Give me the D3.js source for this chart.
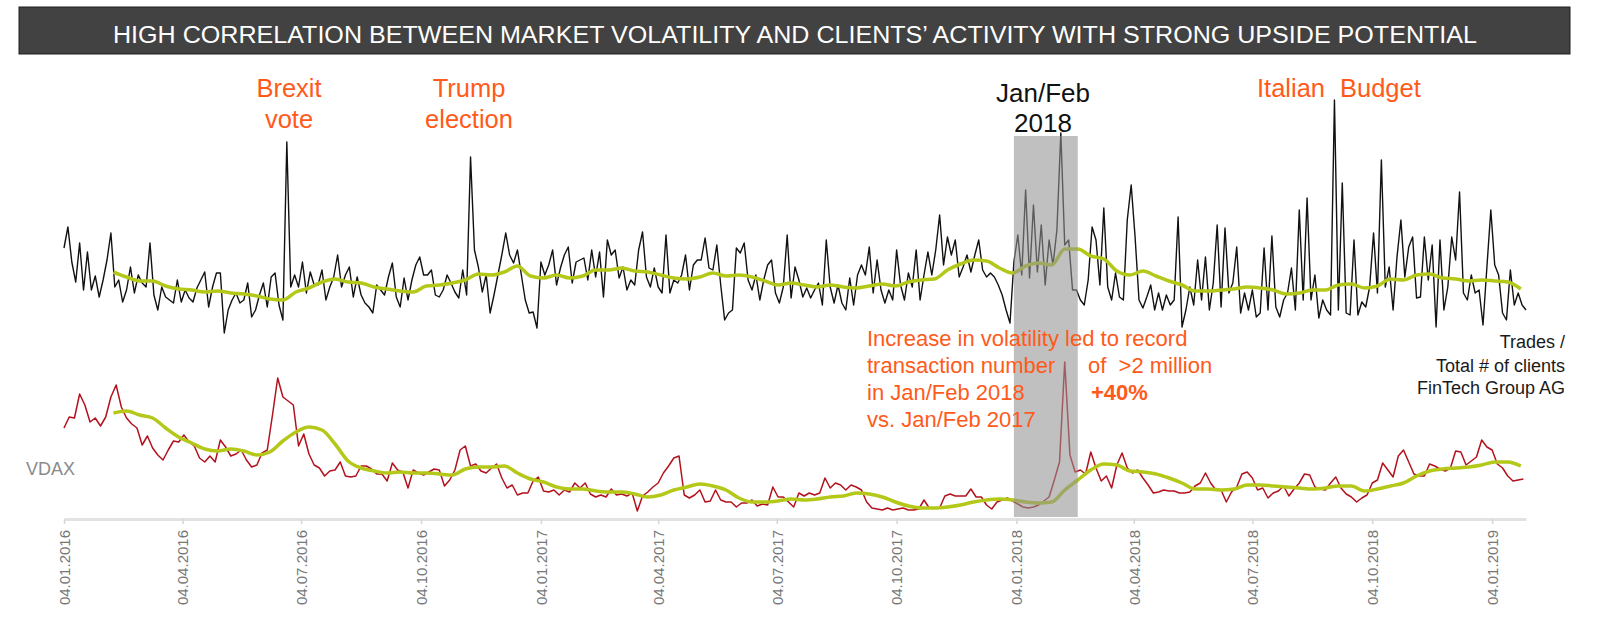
<!DOCTYPE html>
<html>
<head>
<meta charset="utf-8">
<script src="https://cdn.jsdelivr.net/npm/d3@7"></script>
<style>
  html, body { margin: 0; padding: 0; background: #fff; }
  svg { display: block; font-family: "Liberation Sans", Arial, sans-serif; }
  text { white-space: pre; }
</style>
</head>
<body>
<svg id="chart" width="1600" height="631"></svg>
<script>
// ---- data ----
const titleText = "HIGH CORRELATION BETWEEN MARKET VOLATILITY AND CLIENTS\u2019 ACTIVITY WITH STRONG UPSIDE POTENTIAL";

const seriesStart = "04.01.2016";
const seriesEnd = "30.01.2019";
const tickLabels = ["04.01.2016", "04.04.2016", "04.07.2016", "04.10.2016",
  "04.01.2017", "04.04.2017", "04.07.2017", "04.10.2017",
  "04.01.2018", "04.04.2018", "04.07.2018", "04.10.2018", "04.01.2019"];
const highlightPeriod = ["02.01.2018", "20.02.2018"];

// trades / total # of clients (index units), one value every 3 days
const tradesStepDays = 3;
const tradesPerClient = [
  87,108,73,53,92,45,83,45,59,38, 55,75,102,48,55,33,45,68,42,60,
  52,48,92,40,25,48,38,35,32,55, 33,45,37,33,47,55,63,28,48,62,
  62,2,25,35,42,32,35,52,18,25, 40,52,28,58,62,30,15,193,48,60,
  48,73,42,63,50,50,65,35,48,58, 80,48,60,68,38,58,40,32,28,22,
  50,45,40,58,72,38,28,57,35,55, 70,78,60,60,65,40,38,45,60,52,
  43,37,65,40,178,85,68,43,60,22, 40,60,80,102,80,72,85,60,35,22,
  23,7,73,60,70,85,50,67,80,88, 52,73,75,77,55,85,58,83,38,95,
  80,85,57,68,45,55,50,85,103,58, 48,67,48,42,100,42,55,52,60,80,
  45,70,75,75,97,67,65,90,50,15, 22,25,87,82,92,55,45,60,35,55,
  70,75,42,32,48,100,37,68,55,38, 47,37,45,52,30,95,48,32,50,32,
  25,57,30,60,70,60,88,42,75,45, 32,45,35,85,50,35,62,48,85,35,
  60,83,60,85,120,70,98,80,95,58, 68,80,63,80,95,65,58,62,58,50,
  40,25,12,73,100,60,145,57,130,63, 110,50,95,70,105,202,90,95,45,45,
  35,30,55,108,95,50,127,48,35,62, 38,35,115,150,98,35,27,38,50,25,
  42,25,40,30,35,118,8,25,48,30, 75,35,78,25,52,110,28,107,42,52,
  88,22,42,25,45,18,22,87,25,99, 28,18,35,42,67,25,125,35,137,35,
  60,17,35,25,20,235,25,152,22,20, 95,20,33,28,48,102,42,175,48,68,
  25,78,115,58,88,98,37,38,98,55, 90,8,95,25,48,98,75,143,42,35,
  60,42,45,10,68,125,70,60,22,15, 65,30,42,30,25
];

// moving averages: first value on day 38, then every 10 days
const averageStartDay = 38;
const averageStepDays = 10;
const tradesAverage = [
  63,58,54,54,49,46,45,43,44,42, 41,39,36,35,43,47,53,56,53,52,
  48,46,44,43,49,50,52,55,61,60, 63,69,59,57,60,57,59,65,65,67,
  64,63,60,57,56,58,62,59,60,58, 54,50,52,50,48,50,48,47,49,51,
  49,53,55,56,65,71,75,74,67,62, 69,72,70,86,86,79,76,64,60,64,
  59,54,50,44,44,45,46,48,47,45, 41,42,45,45,50,51,47,49,56,55,
  60,61,57,56,54,55,54,53,46
];

// VDAX, one value every 4 days
const vdaxStepDays = 4;
const vdax = [
  28.4,30.6,30.4,35.2,33.0,29.6,30.4,28.8,30.6,34.6, 37.0,32.6,30.4,29.2,28.4,25.0,26.8,24.4,23.0,22.0,
  24.0,25.8,25.6,27.0,25.6,24.8,22.4,21.6,22.8,21.6, 26.0,24.6,22.8,23.2,24.0,22.0,20.6,21.0,23.4,24.0,
  31.0,38.4,34.6,33.8,33.0,24.8,27.2,23.2,21.0,20.4, 18.8,19.8,20.0,21.6,18.8,18.6,18.8,20.8,20.8,20.2,
  19.2,19.2,17.8,21.4,20.0,19.6,16.4,20.0,19.4,19.0, 19.6,20.2,20.0,16.8,18.0,20.0,24.0,24.8,20.8,21.2,
  19.8,19.4,20.4,21.2,18.4,16.4,17.0,15.0,15.4,15.4, 17.8,18.6,15.8,15.6,16.0,15.0,16.0,15.6,17.4,16.4,
  17.4,15.2,14.6,15.0,14.6,16.2,15.0,15.2,14.8,15.4, 11.8,14.8,15.6,16.6,17.4,19.4,20.8,22.4,22.8,15.0,
  14.4,15.0,16.0,13.6,13.8,16.0,14.0,13.6,13.6,12.6, 13.4,13.4,14.0,12.8,13.2,13.0,16.6,14.6,14.6,13.6,
  12.6,15.4,14.8,15.4,15.0,15.4,18.4,16.4,17.4,17.0, 16.0,17.0,16.6,16.0,13.6,12.4,12.2,12.0,12.4,12.0,
  12.2,12.4,12.0,12.0,12.2,14.0,12.4,12.4,12.4,14.8, 15.2,14.8,14.8,14.8,16.2,14.6,14.6,13.0,12.2,13.6,
  14.0,14.4,13.8,13.2,12.6,12.4,12.6,13.0,13.8,14.6, 18.0,21.6,41.6,23.0,19.6,20.0,19.2,23.6,20.4,17.8,
  18.8,16.4,21.0,23.4,20.4,19.4,20.0,18.4,17.0,15.4, 15.6,16.0,15.8,15.8,15.4,15.4,15.6,16.8,17.4,19.4,
  17.4,16.0,16.0,13.6,15.6,16.6,19.2,19.6,18.4,16.0, 16.4,14.4,15.4,15.8,16.8,14.8,16.2,17.4,19.2,19.0,
  16.6,16.2,16.0,17.4,18.6,16.4,15.2,14.6,13.6,14.4, 15.0,17.4,18.0,21.4,20.0,18.6,22.8,24.0,21.6,19.2,
  18.8,18.8,21.2,20.8,20.2,19.8,20.4,23.8,23.6,21.0, 21.8,22.6,26.0,24.6,24.0,21.2,20.4,18.8,17.8,18.0,
  18.2
];
const vdaxAverage = [
  31.4,31.8,31.0,30.4,28.4,26.6,25.4,24.2,23.8,24.2, 23.8,23.0,23.6,25.8,27.6,28.6,28.0,25.2,21.8,20.4,
  19.8,19.4,19.6,19.4,19.4,19.2,19.0,20.2,20.6,20.6, 20.8,19.4,18.2,17.6,16.6,16.2,16.2,15.8,15.6,15.6,
  15.2,14.6,15.0,16.0,16.6,17.2,16.8,16.0,14.4,13.6, 13.6,13.8,14.2,14.0,14.2,14.6,14.8,15.4,15.2,14.6,
  13.6,12.8,12.4,12.4,12.6,13.0,13.6,14.0,14.2,14.0, 13.6,13.4,13.6,16.0,18.0,20.0,21.2,21.0,19.8,19.6,
  19.2,18.4,17.4,16.2,16.2,16.0,16.2,17.0,17.0,16.8, 16.6,16.4,16.2,16.4,16.8,16.8,15.8,16.2,16.8,17.4,
  18.8,19.8,20.2,20.4,20.6,21.0,21.6,21.6,20.8
];

// ---- setup ----
const parse = d3.timeParse("%d.%m.%Y");
const start = parse(seriesStart);
const end = parse(seriesEnd);
const dayAt = (offset) => d3.timeDay.offset(start, offset);

const svg = d3.select("#chart");
const orange = "#ff5a1a";
const green = "#b4c81a";

const x = d3.scaleTime().domain([start, end]).range([64, 1526]);
const yTrades = d3.scaleLinear().domain([0, 240]).range([335, 95]);
const yVdax = d3.scaleLinear().domain([10, 42]).range([520, 360]);

const toPoints = (values, firstDay, step) =>
  values.map((v, i) => ({ date: dayAt(firstDay + i * step), value: v }));

const tradesPts = toPoints(tradesPerClient, 0, tradesStepDays);
const tradesAvgPts = toPoints(tradesAverage, averageStartDay, averageStepDays);
const vdaxPts = toPoints(vdax, 0, vdaxStepDays);
const vdaxAvgPts = toPoints(vdaxAverage, averageStartDay, averageStepDays);

const lineFor = (y, curve) => d3.line()
  .x(d => x(d.date))
  .y(d => y(d.value))
  .curve(curve);

// ---- title ----
svg.append("rect")
  .attr("x", 19).attr("y", 7)
  .attr("width", 1551).attr("height", 47)
  .attr("fill", "#424242")
  .attr("stroke", "#1e1e1e")
  .attr("stroke-width", 1);

svg.append("text")
  .attr("x", 795).attr("y", 43)
  .attr("text-anchor", "middle")
  .attr("fill", "#fff")
  .attr("font-size", 24.5)
  .attr("textLength", 1364)
  .attr("lengthAdjust", "spacingAndGlyphs")
  .text(titleText);

// ---- axis ----
const axis = d3.axisBottom(x)
  .tickValues(tickLabels.map(parse))
  .tickFormat(d3.timeFormat("%d.%m.%Y"))
  .tickSize(5)
  .tickSizeOuter(0);

const gAxis = svg.append("g")
  .attr("transform", "translate(0,519)")
  .call(axis);

gAxis.select(".domain").attr("stroke", "#e2e2e2").attr("stroke-width", 3);
gAxis.selectAll(".tick line").attr("stroke", "#d6d6d6").attr("stroke-width", 1.5);
gAxis.selectAll(".tick text")
  .attr("fill", "#777")
  .attr("font-size", 15)
  .attr("font-family", "'Liberation Sans', Arial, sans-serif")
  .attr("text-anchor", "end")
  .attr("transform", "translate(0,11) rotate(-90)")
  .attr("x", 0).attr("y", 0)
  .attr("dy", "0.35em");

// ---- lines ----
svg.append("path").datum(tradesPts)
  .attr("fill", "none").attr("stroke", "#111").attr("stroke-width", 1.4)
  .attr("stroke-linejoin", "round")
  .attr("d", lineFor(yTrades, d3.curveLinear));

svg.append("path").datum(tradesAvgPts)
  .attr("fill", "none").attr("stroke", green).attr("stroke-width", 3.5)
  .attr("stroke-linejoin", "round")
  .attr("d", lineFor(yTrades, d3.curveMonotoneX));

svg.append("path").datum(vdaxPts)
  .attr("fill", "none").attr("stroke", "#b3121c").attr("stroke-width", 1.5)
  .attr("stroke-linejoin", "round")
  .attr("d", lineFor(yVdax, d3.curveLinear));

svg.append("path").datum(vdaxAvgPts)
  .attr("fill", "none").attr("stroke", green).attr("stroke-width", 3.5)
  .attr("stroke-linejoin", "round")
  .attr("d", lineFor(yVdax, d3.curveMonotoneX));

// ---- Jan/Feb 2018 highlight ----
const [hlFrom, hlTo] = highlightPeriod.map(parse);
svg.append("rect")
  .attr("x", x(hlFrom)).attr("y", 136)
  .attr("width", x(hlTo) - x(hlFrom)).attr("height", 381)
  .attr("fill", "#939393")
  .attr("fill-opacity", 0.58);

// ---- annotations ----
const label = (txt, px, py, opts = {}) => svg.append("text")
  .attr("x", px).attr("y", py)
  .attr("text-anchor", opts.anchor || "start")
  .attr("fill", opts.color || orange)
  .attr("font-size", opts.size || 22)
  .attr("font-weight", opts.weight || "normal")
  .text(txt);

label("Brexit", 289, 97, { anchor: "middle", size: 25.5 });
label("vote", 289, 128, { anchor: "middle", size: 25.5 });
label("Trump", 469, 97, { anchor: "middle", size: 25.5 });
label("election", 469, 128, { anchor: "middle", size: 25.5 });
label("Italian", 1257, 97, { size: 25.5 });
label("Budget", 1340, 97, { size: 25.5 });
label("Jan/Feb", 1043, 102, { anchor: "middle", size: 26, color: "#111" });
label("2018", 1043, 132, { anchor: "middle", size: 26, color: "#111" });

label("Increase in volatility led to record", 867, 346);
label("transaction number", 867, 373);
label("of  >2 million", 1088, 373);
label("in Jan/Feb 2018", 867, 400);
label("+40%", 1091, 400, { weight: "bold" });
label("vs. Jan/Feb 2017", 867, 427);

label("Trades /", 1565, 348, { anchor: "end", size: 18, color: "#1a1a1a" });
label("Total # of clients", 1565, 372, { anchor: "end", size: 18, color: "#1a1a1a" });
label("FinTech Group AG", 1565, 394, { anchor: "end", size: 18, color: "#1a1a1a" });

label("VDAX", 26, 475, { size: 18, color: "#8a8a8a" });
</script>
</body>
</html>
